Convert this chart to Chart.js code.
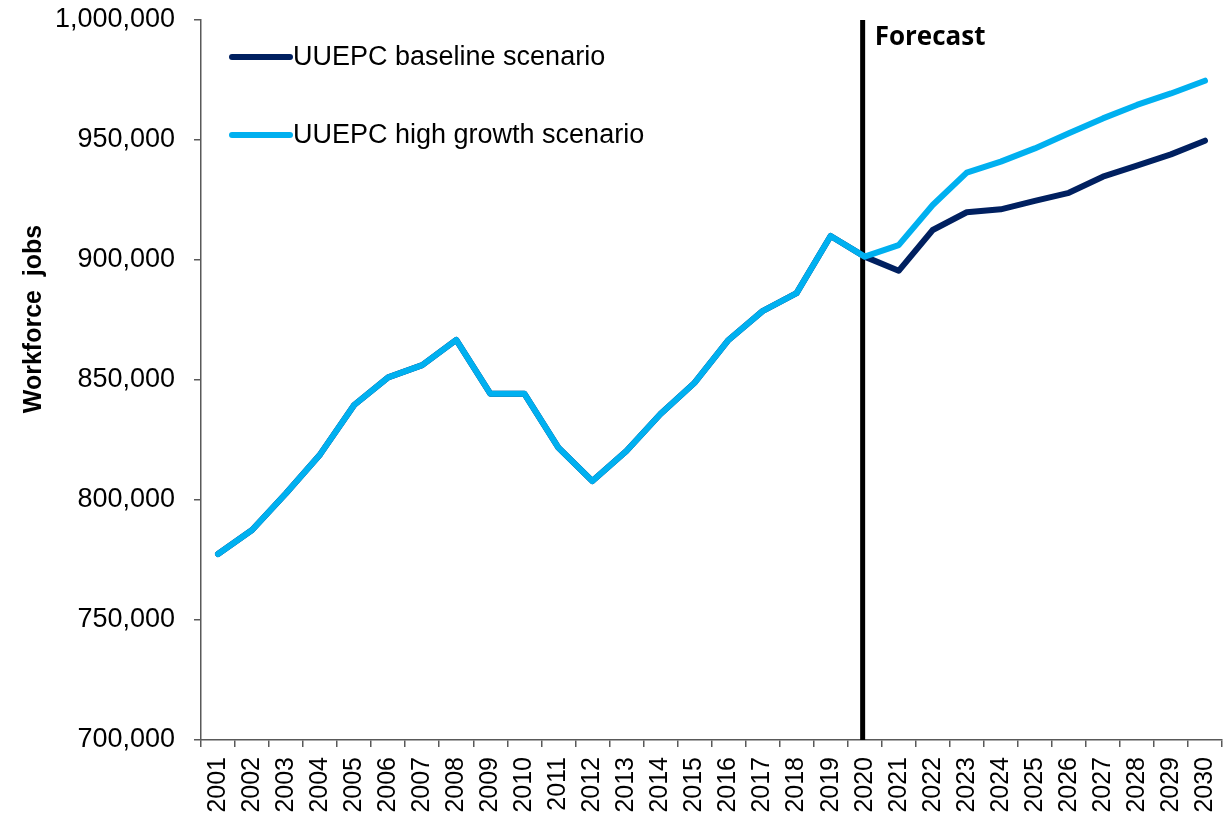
<!DOCTYPE html>
<html>
<head>
<meta charset="utf-8">
<script src="https://cdn.jsdelivr.net/npm/chart.js@4/dist/chart.umd.min.js"></script>
<style>
  body { margin: 0; background: #fff; }
</style>
</head>
<body>
<canvas id="chart" width="1224" height="818"></canvas>
<script>
const years = ['2001', '2002', '2003', '2004', '2005', '2006', '2007', '2008', '2009', '2010',
  '2011', '2012', '2013', '2014', '2015', '2016', '2017', '2018', '2019', '2020',
  '2021', '2022', '2023', '2024', '2025', '2026', '2027', '2028', '2029', '2030'];

// history 2001-2020 is shared by both scenarios
const history = [777500, 787500, 802800, 819000, 839600, 851100, 856200, 866700, 844300, 844300,
  821800, 807900, 820400, 835800, 848800, 866700, 878700, 886200, 910000, 901400];
const baselineForecast = [895500, 912500, 919900, 921100, 924600, 928000, 934700, 939300, 944000, 949700];
const highForecast = [906200, 922900, 936400, 941000, 946500, 952800, 959000, 964600, 969400, 974700];

const forecastStart = '2020';
const yTicks = [700000, 750000, 800000, 850000, 900000, 950000, 1000000];
const yTitle = 'Workforce  jobs';

const NAVY = '#002060';
const CYAN = '#00B0F0';
const AXIS = '#595959';

// forecast marker line + label
const forecastLine = {
  id: 'forecastLine',
  beforeDatasetsDraw(chart) {
    const { ctx, chartArea, scales: { x } } = chart;
    const px = x.getPixelForValue(years.indexOf(forecastStart)) - 2;
    ctx.save();
    ctx.strokeStyle = '#000';
    ctx.lineWidth = 5;
    ctx.beginPath();
    ctx.moveTo(px, chartArea.top);
    ctx.lineTo(px, chartArea.bottom);
    ctx.stroke();
    ctx.fillStyle = '#000';
    ctx.font = 'bold 26px "Open Sans"';
    ctx.textBaseline = 'middle';
    ctx.fillText('Forecast', px + 12, chartArea.top + 18);
    ctx.restore();
  }
};

// y title sits above the middle of the axis in the original, so draw it by hand
const axisTitle = {
  id: 'axisTitle',
  afterDraw(chart) {
    const { ctx } = chart;
    ctx.save();
    ctx.translate(34, 319);
    ctx.rotate(-Math.PI / 2);
    ctx.font = 'bold 25px "Liberation Sans", Arial, sans-serif';
    ctx.fillStyle = '#000';
    ctx.textAlign = 'center';
    ctx.textBaseline = 'middle';
    ctx.fillText(yTitle, 0, 0);
    ctx.restore();
  }
};

// legend drawn inside the plot, top-left
const insideLegend = {
  id: 'insideLegend',
  afterDraw(chart) {
    const { ctx, chartArea } = chart;
    ctx.save();
    ctx.font = '27px "Liberation Sans", Arial, sans-serif';
    ctx.textBaseline = 'middle';
    chart.data.datasets.forEach((ds, i) => {
      const y = chartArea.top + 37 + i * 78;
      const x0 = chartArea.left + 31;
      ctx.strokeStyle = ds.borderColor;
      ctx.lineWidth = 6;
      ctx.lineCap = 'round';
      ctx.beginPath();
      ctx.moveTo(x0, y);
      ctx.lineTo(x0 + 58, y);
      ctx.stroke();
      ctx.fillStyle = '#000';
      ctx.fillText(ds.label, x0 + 61, y + 1);
    });
    ctx.restore();
  }
};

new Chart(document.getElementById('chart'), {
  type: 'line',
  data: {
    labels: years,
    datasets: [{
      label: 'UUEPC baseline scenario',
      data: history.concat(baselineForecast),
      borderColor: NAVY,
      backgroundColor: NAVY,
      order: 2,
    }, {
      label: 'UUEPC high growth scenario',
      data: history.concat(highForecast),
      borderColor: CYAN,
      backgroundColor: CYAN,
      order: 1,
    }]
  },
  options: {
    responsive: false,
    animation: false,
    layout: { padding: { top: 20, right: 2, left: 0, bottom: 0 } },
    elements: {
      line: { borderWidth: 6, tension: 0, borderCapStyle: 'round', borderJoinStyle: 'round' },
      point: { radius: 0 }
    },
    plugins: {
      legend: { display: false },
      tooltip: { enabled: false },
      title: { display: false }
    },
    scales: {
      x: {
        offset: true,
        grid: { offset: true, drawOnChartArea: false, drawTicks: true, tickLength: 7, color: AXIS, lineWidth: 1.5 },
        border: { color: AXIS, width: 1.5 },
        ticks: {
          color: '#000',
          font: { family: '"Liberation Sans", Arial, sans-serif', size: 25 },
          maxRotation: 90,
          minRotation: 90,
          padding: 10,
          autoSkip: false
        },
        afterFit(scale) {
          scale.height = 78;
          scale.paddingLeft = 0;
          scale.paddingRight = 0;
        }
      },
      y: {
        min: 700000,
        max: 1000000,
        afterBuildTicks(scale) { scale.ticks = yTicks.map(v => ({ value: v })); },
        grid: { drawOnChartArea: false, drawTicks: true, tickLength: 7, color: AXIS, lineWidth: 1.5 },
        border: { color: AXIS, width: 1.5 },
        ticks: {
          color: '#000',
          font: { family: '"Liberation Sans", Arial, sans-serif', size: 27 },
          padding: 19,
          callback: v => v.toLocaleString('en-US')
        },
        afterFit(scale) {
          scale.width = 201;
          scale.paddingTop = 0;
          scale.paddingBottom = 0;
        }
      }
    }
  },
  plugins: [forecastLine, insideLegend, axisTitle]
});
</script>
</body>
</html>
